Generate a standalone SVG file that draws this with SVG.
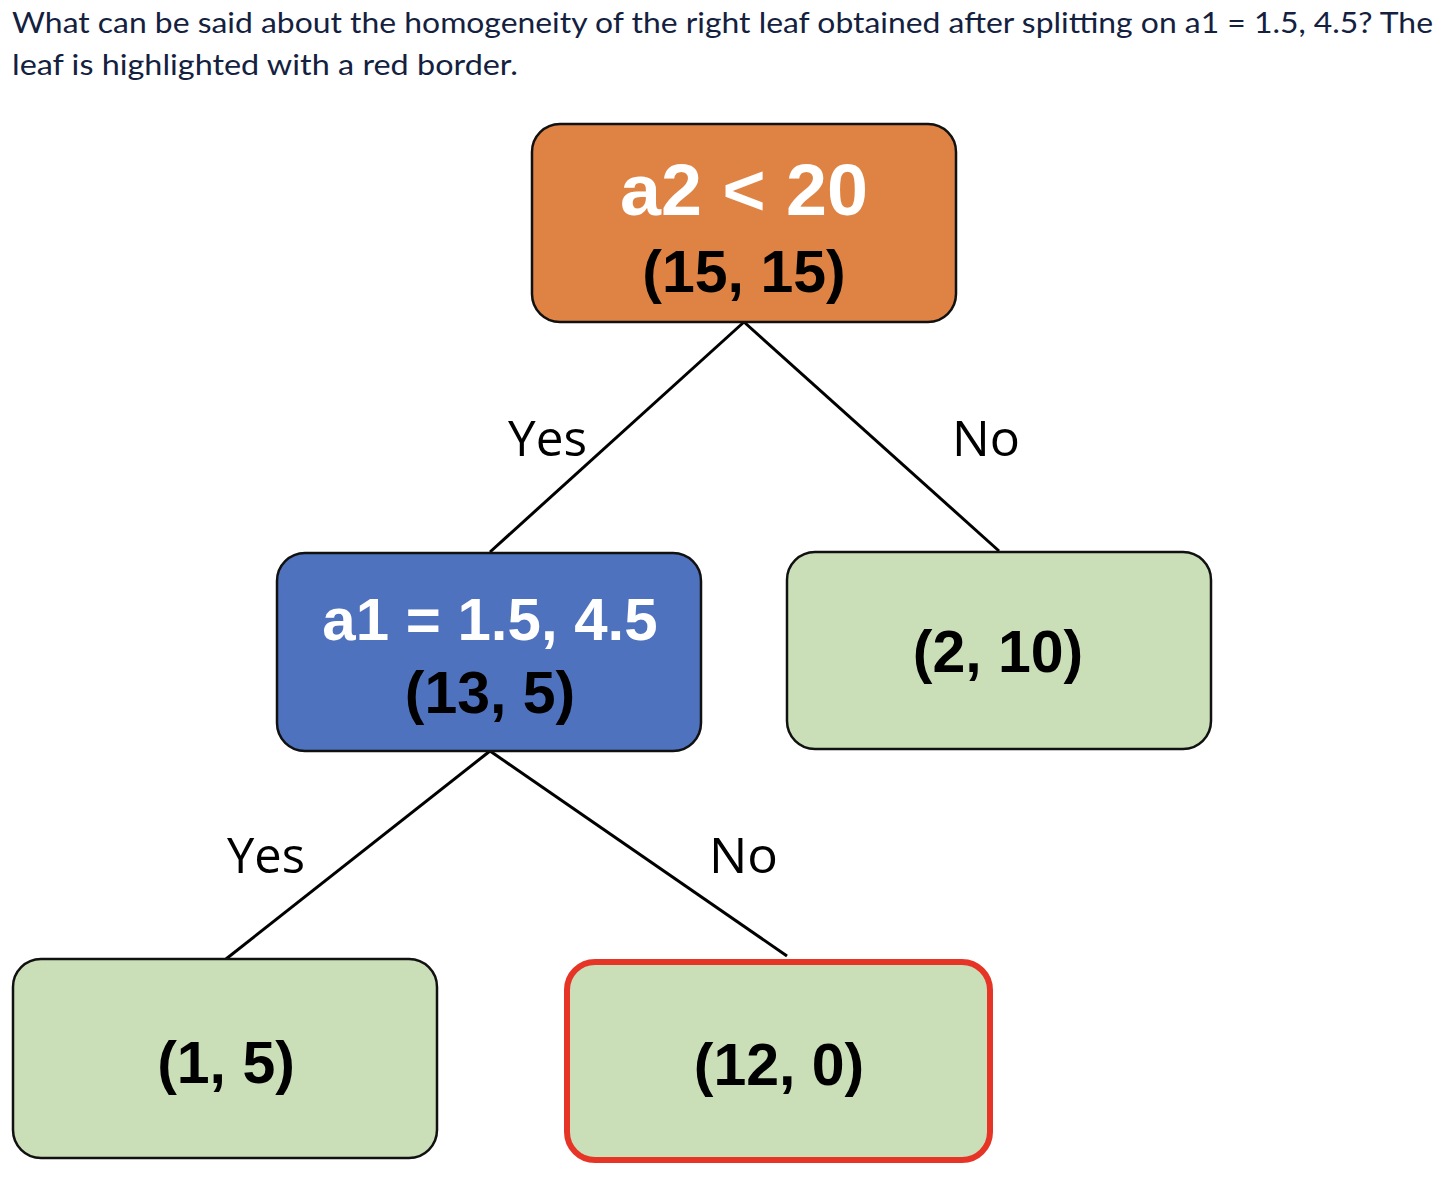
<svg xmlns="http://www.w3.org/2000/svg" width="1448" height="1192" viewBox="0 0 1448 1192">
<style>
.q{font-family:Lato,"Open Sans","Liberation Sans",sans-serif;font-size:29px;fill:#13213f}
.box{stroke:#111;stroke-width:2.5}
.t{font-family:"Liberation Sans",Arial,sans-serif;font-weight:bold;text-anchor:middle}
.w{fill:#fff}
.k{fill:#000}
.lbl{font-family:"Open Sans","Noto Sans",sans-serif;font-size:50px;fill:#000}
.edge{stroke:#000;stroke-width:3;fill:none}
</style>
<rect width="1448" height="1192" fill="#fff"/>
<g id="question">
<text class="q" x="12" y="33" textLength="1421" lengthAdjust="spacingAndGlyphs">What can be said about the homogeneity of the right leaf obtained after splitting on a1 = 1.5, 4.5? The</text>
<text class="q" x="12" y="75" textLength="506" lengthAdjust="spacingAndGlyphs">leaf is highlighted with a red border.</text>
</g>
<g id="connectors">
<line class="edge" x1="744" y1="322" x2="490" y2="552"/>
<line class="edge" x1="744" y1="322" x2="999" y2="551"/>
<line class="edge" x1="490" y1="751" x2="226" y2="959"/>
<line class="edge" x1="490" y1="751" x2="787" y2="956"/>
<text class="lbl" x="508" y="456" textLength="79" lengthAdjust="spacingAndGlyphs">Yes</text>
<text class="lbl" x="952" y="456" textLength="68" lengthAdjust="spacingAndGlyphs">No</text>
<text class="lbl" x="227" y="873" textLength="78" lengthAdjust="spacingAndGlyphs">Yes</text>
<text class="lbl" x="709" y="873" textLength="69" lengthAdjust="spacingAndGlyphs">No</text>
</g>
<g id="root">
<rect class="box" x="532" y="124" width="424" height="198" rx="28" fill="#df8344"/>
<text class="t w" x="744" y="215" font-size="72" textLength="248" lengthAdjust="spacingAndGlyphs">a2 &lt; 20</text>
<text class="t k" x="744" y="292" font-size="59">(15, 15)</text>
</g>
<g id="split_a1">
<rect class="box" x="277" y="553" width="424" height="198" rx="28" fill="#4e72be"/>
<text class="t w" x="490" y="640" font-size="60">a1 = 1.5, 4.5</text>
<text class="t k" x="490" y="713" font-size="59">(13, 5)</text>
</g>
<g id="leaf_2_10">
<rect class="box" x="787" y="552" width="424" height="197" rx="28" fill="#cadfb8"/>
<text class="t k" x="998" y="672" font-size="59">(2, 10)</text>
</g>
<g id="leaf_1_5">
<rect class="box" x="13" y="959" width="424" height="199" rx="28" fill="#cadfb8"/>
<text class="t k" x="226" y="1083" font-size="59">(1, 5)</text>
</g>
<g id="leaf_12_0">
<rect x="567" y="962" width="423" height="198" rx="28" fill="#cadfb8" stroke="#e63527" stroke-width="6"/>
<text class="t k" x="779" y="1085" font-size="59">(12, 0)</text>
</g>
</svg>
